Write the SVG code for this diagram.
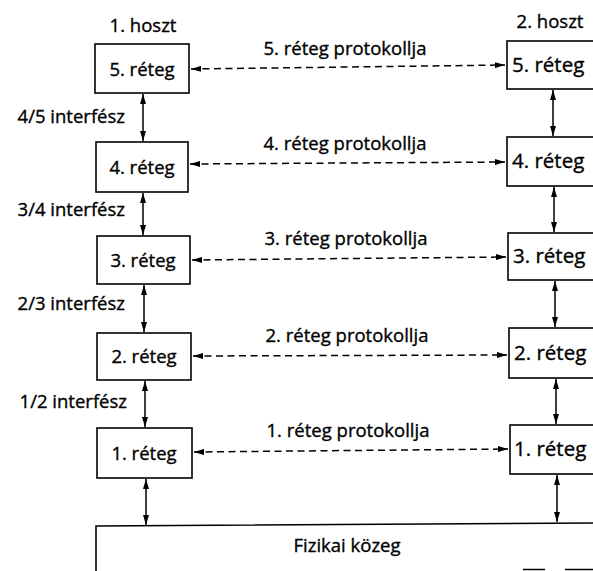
<svg xmlns="http://www.w3.org/2000/svg" width="593" height="571" viewBox="0 0 593 571">
  <style>
    text { font-family: "Open Sans", "Noto Sans", "Liberation Sans", sans-serif; font-size: 18.5px; fill: #000; stroke: #000; stroke-width: 0.35; }
    .mid { text-anchor: middle; }
    .end { text-anchor: end; }
    .big { font-size: 20.5px; }
    .box { fill: #fff; stroke: #000; stroke-width: 1.6; }
    .iface { fill: none; stroke: #000; stroke-width: 1.5; marker-start: url(#tip); marker-end: url(#tip); }
    .proto { fill: none; stroke: #000; stroke-width: 1.5; stroke-dasharray: 7 4.5; marker-start: url(#tip); marker-end: url(#tip); }
    .edge { fill: none; stroke: #000; stroke-width: 1.6; }
  </style>
  <defs>
    <marker id="tip" viewBox="0 0 10 6" refX="10" refY="3" markerWidth="10" markerHeight="6" markerUnits="userSpaceOnUse" orient="auto-start-reverse">
      <path d="M0,0 L10,3 L0,6 z" fill="#000"/>
    </marker>
  </defs>
  <rect width="593" height="571" fill="#fff"/>

  <!-- host titles -->
  <text class="mid" x="143" y="32">1. hoszt</text>
  <text class="mid" x="550" y="28">2. hoszt</text>

  <!-- host 1 stack -->
  <g id="h1-l5"><rect class="box" x="95" y="44" width="94" height="49"/><text class="mid" x="142" y="76">5. réteg</text></g>
  <g id="h1-l4"><rect class="box" x="96" y="142" width="92" height="50"/><text class="mid" x="142" y="174">4. réteg</text></g>
  <g id="h1-l3"><rect class="box" x="97" y="236" width="93" height="48"/><text class="mid" x="143" y="267">3. réteg</text></g>
  <g id="h1-l2"><rect class="box" x="97" y="333" width="94" height="47"/><text class="mid" x="144" y="363">2. réteg</text></g>
  <g id="h1-l1"><rect class="box" x="97" y="428" width="95" height="50"/><text class="mid" x="144" y="460">1. réteg</text></g>

  <!-- host 2 stack (runs past the right edge) -->
  <g id="h2-l5"><rect class="box" x="507" y="41" width="100" height="48"/><text class="big" x="512" y="72">5. réteg</text></g>
  <g id="h2-l4"><rect class="box" x="507" y="137" width="100" height="49"/><text class="big" x="512" y="168">4. réteg</text></g>
  <g id="h2-l3"><rect class="box" x="508" y="233" width="100" height="47"/><text class="big" x="513" y="263">3. réteg</text></g>
  <g id="h2-l2"><rect class="box" x="509" y="328" width="100" height="50"/><text class="big" x="514" y="360">2. réteg</text></g>
  <g id="h2-l1"><rect class="box" x="510" y="425" width="100" height="49"/><text class="big" x="514" y="456">1. réteg</text></g>

  <!-- physical medium -->
  <g id="medium">
    <path class="edge" d="M96,571 L96,526 L593,523"/>
    <path class="edge" d="M523,569.5 L545,569.5 M565,569.5 L593,569.5"/>
    <text class="mid" x="347" y="552">Fizikai közeg</text>
  </g>

  <!-- interface labels -->
  <text class="end" x="125" y="123">4/5 interfész</text>
  <text class="end" x="125" y="216">3/4 interfész</text>
  <text class="end" x="125" y="310">2/3 interfész</text>
  <text class="end" x="127" y="408">1/2 interfész</text>

  <!-- protocol labels -->
  <text class="mid" x="345" y="55">5. réteg protokollja</text>
  <text class="mid" x="345" y="150">4. réteg protokollja</text>
  <text class="mid" x="346" y="245">3. réteg protokollja</text>
  <text class="mid" x="347" y="342">2. réteg protokollja</text>
  <text class="mid" x="348" y="437">1. réteg protokollja</text>

  <g id="connectors">
    <!-- peer protocols -->
    <path class="proto" d="M191,69 L505,65"/>
    <path class="proto" d="M190,164 L505,162"/>
    <path class="proto" d="M192,260 L506,257"/>
    <path class="proto" d="M193,356 L507,355"/>
    <path class="proto" d="M194,452 L508,449"/>
    <!-- host 1 interfaces -->
    <path class="iface" d="M143,94 L143,141"/>
    <path class="iface" d="M143,193 L143,235"/>
    <path class="iface" d="M144,285 L144,332"/>
    <path class="iface" d="M145,381 L145,427"/>
    <path class="iface" d="M146,479 L146,525"/>
    <!-- host 2 interfaces -->
    <path class="iface" d="M553,90 L553,136"/>
    <path class="iface" d="M554,187 L554,232"/>
    <path class="iface" d="M555,281 L555,327"/>
    <path class="iface" d="M556,379 L556,424"/>
    <path class="iface" d="M557,475 L557,522"/>
  </g>
</svg>
